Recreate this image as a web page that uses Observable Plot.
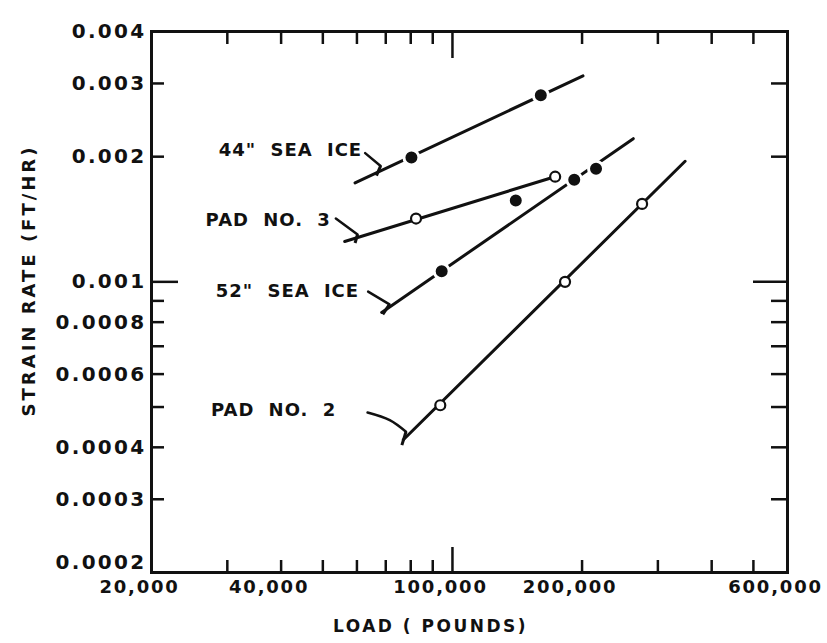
<!DOCTYPE html>
<html>
<head>
<meta charset="utf-8">
<script src="https://cdn.jsdelivr.net/npm/d3@7"></script>
<script src="https://cdn.jsdelivr.net/npm/@observablehq/plot@0.6"></script>
<style>
  html, body { margin: 0; padding: 0; background: #fff; }
  #chart svg { display: block; background: #fff; }
</style>
</head>
<body>
<div id="chart"></div>
<script>
// ---- axis ticks and labels ----
const xLabelValues = [20000, 40000, 100000, 200000, 600000];
const xLabelText = ["20,000", "40,000", "100,000", "200,000", "600,000"];
const xMinorTicks = [30000, 40000, 50000, 60000, 70000, 80000, 90000, 200000, 300000, 400000, 500000];
const xMajorTicks = [100000];

const yLabelValues = [0.0002, 0.0003, 0.0004, 0.0006, 0.0008, 0.001, 0.002, 0.003, 0.004];
const yLabelText = ["0.0002", "0.0003", "0.0004", "0.0006", "0.0008", "0.001", "0.002", "0.003", "0.004"];
const yMinorTicks = [0.0003, 0.0004, 0.0005, 0.0006, 0.0007, 0.0008, 0.0009, 0.002, 0.003];
const yMajorTicks = [0.001];

const xTitle = "LOAD ( POUNDS)";
const yTitle = "STRAIN RATE (FT/HR)";

// ---- series (load in pounds, strain rate in ft/hr) ----
const seriesNames = ["44\" SEA ICE", "PAD NO. 3", "52\" SEA ICE", "PAD NO. 2"];
const lineStartLoad = [59400, 56200, 68500, 76900];
const lineStartRate = [0.00173, 0.00125, 0.000844, 0.000417];
const lineEndLoad   = [201000, 173000, 263000, 347000];
const lineEndRate   = [0.00313, 0.00179, 0.00221, 0.00195];

const sea44Load = [80300, 160400];
const sea44Rate = [0.00199, 0.00281];
const pad3Load  = [82300, 173200];
const pad3Rate  = [0.00142, 0.00179];
const sea52Load = [94400, 140300, 191800, 215500];
const sea52Rate = [0.00106, 0.00157, 0.00176, 0.00187];
const pad2Load  = [93700, 182600, 275700];
const pad2Rate  = [0.000505, 0.00100, 0.00154];

// ---- label annotations (data coordinates) ----
const labelLoad = [61700, 52200, 60700, 53700];
const labelRate = [0.00207, 0.00141, 0.000952, 0.000492];
const leadStartLoad = [62700, 53600, 63700, 63500];
const leadStartRate = [0.00204, 0.00142, 0.000947, 0.000485];
const pad2BendLoad = 71500;
const pad2BendRate = 0.000465;
const junctionLoad = [68100, 60200, 71400, 78000];
const junctionRate = [0.00190, 0.00130, 0.000883, 0.000436];
const stemLoad = [66600, 59400, 68900, 76300];
const stemRate = [0.00180, 0.00124, 0.000835, 0.000405];

// ---- build tables ----
const toPts = (L, S) => L.map((l, i) => ({L: l, S: S[i]}));
const lines = seriesNames.flatMap((s, i) => [
  {s, L: lineStartLoad[i], S: lineStartRate[i]},
  {s, L: lineEndLoad[i], S: lineEndRate[i]}
]);
const filledPts = [...toPts(sea44Load, sea44Rate), ...toPts(sea52Load, sea52Rate)];
const openPts = [...toPts(pad3Load, pad3Rate), ...toPts(pad2Load, pad2Rate)];
const labels = seriesNames.map((s, i) => ({s, L: labelLoad[i], S: labelRate[i]}));
const leaders = seriesNames.flatMap((s, i) => [
  {s, L: leadStartLoad[i], S: leadStartRate[i]},
  ...(i === 3 ? [{s, L: pad2BendLoad, S: pad2BendRate}] : []),
  {s, L: junctionLoad[i], S: junctionRate[i]}
]);
const stems = seriesNames.map((s, i) => ({
  s, L1: junctionLoad[i], S1: junctionRate[i], L2: stemLoad[i], S2: stemRate[i]
}));
const xLabels = xLabelValues.map((v, i) => ({v, t: xLabelText[i]}));
const yLabels = yLabelValues.map((v, i) => ({v, t: yLabelText[i]}));

// ---- layout ----
const W = 827, H = 643;
const mL = 151, mR = 40, mT = 31, mB = 71;
const pW = W - mL - mR, pH = H - mT - mB;
const ink = "#111";
const font = "DejaVu Sans, Liberation Sans, sans-serif";

const chart = Plot.plot({
  width: W,
  height: H,
  marginLeft: mL,
  marginRight: mR,
  marginTop: mT,
  marginBottom: mB,
  style: {background: "#fff", color: ink, fontFamily: font},
  x: {type: "log", domain: [20000, 600000], axis: null},
  y: {type: "log", domain: [0.0002, 0.004], axis: null},
  marks: [
    // tick marks (inward)
    Plot.ruleX(xMinorTicks, {x: d => d, insetTop: pH - 12, stroke: ink, strokeWidth: 2.5}),
    Plot.ruleX(xMajorTicks, {x: d => d, insetTop: pH - 25, stroke: ink, strokeWidth: 2.5}),
    Plot.ruleX(xMinorTicks, {x: d => d, insetBottom: pH - 13, stroke: ink, strokeWidth: 2.5}),
    Plot.ruleX(xMajorTicks, {x: d => d, insetBottom: pH - 27, stroke: ink, strokeWidth: 2.5}),
    Plot.ruleY(yMinorTicks, {y: d => d, insetRight: pW - 13, stroke: ink, strokeWidth: 2.5}),
    Plot.ruleY(yMajorTicks, {y: d => d, insetRight: pW - 27, stroke: ink, strokeWidth: 2.5}),
    Plot.ruleY(yMinorTicks, {y: d => d, insetLeft: pW - 16, stroke: ink, strokeWidth: 2.5}),
    Plot.ruleY(yMajorTicks, {y: d => d, insetLeft: pW - 34, stroke: ink, strokeWidth: 2.5}),
    Plot.frame({stroke: ink, strokeWidth: 3}),

    // tick labels
    Plot.text(yLabels.slice(1), {
      y: "v", text: "t", frameAnchor: "left", textAnchor: "end", lineAnchor: "middle", dx: -5,
      fontSize: 20, fontWeight: "bold", fill: ink
    }),
    Plot.text(yLabels.slice(0, 1), {
      y: "v", text: "t", frameAnchor: "left", textAnchor: "end", lineAnchor: "middle", dx: -5, dy: -10,
      fontSize: 20, fontWeight: "bold", fill: ink
    }),
    Plot.text(xLabels, {
      x: "v", text: "t", frameAnchor: "bottom", lineAnchor: "top", dy: 8, dx: -12,
      fontSize: 18, fontWeight: "bold", fill: ink
    }),
    Plot.text([xTitle], {
      frameAnchor: "bottom", textAnchor: "middle", lineAnchor: "middle",
      dx: 430 - (mL + pW / 2), dy: 54,
      fontSize: 17, fontWeight: "bold", fill: ink
    }),
    Plot.text([yTitle], {
      frameAnchor: "left", textAnchor: "middle", lineAnchor: "middle", rotate: -90,
      dx: 29 - mL, dy: 280 - (mT + pH / 2),
      fontSize: 18, fontWeight: "bold", fill: ink
    }),

    // series lines
    Plot.line(lines, {x: "L", y: "S", z: "s", stroke: ink, strokeWidth: 3}),

    // leaders and hooks
    Plot.line(leaders, {x: "L", y: "S", z: "s", stroke: ink, strokeWidth: 2.5, curve: "catmull-rom"}),
    Plot.link(stems, {x1: "L1", y1: "S1", x2: "L2", y2: "S2", stroke: ink, strokeWidth: 3}),

    // points
    Plot.dot(filledPts, {x: "L", y: "S", r: 7.5, fill: ink, stroke: "#fff", strokeWidth: 3}),
    Plot.dot(openPts, {x: "L", y: "S", r: 5, fill: "#fff", stroke: ink, strokeWidth: 2.2}),

    // series labels
    Plot.text(labels, {
      x: "L", y: "S", text: "s", textAnchor: "end", lineAnchor: "middle", fontSize: 18, fontWeight: "bold",
      fill: ink
    })
  ]
});

// letter spacing like the original hand lettering
const spacing = new Map();
yLabelText.forEach(t => spacing.set(t, ["2.3px", "0px"]));
xLabelText.forEach(t => spacing.set(t, ["1.8px", "0px"]));
seriesNames.forEach(t => spacing.set(t, ["1px", "7px"]));
spacing.set(xTitle, ["2.5px", "0px"]);
spacing.set(yTitle, ["3px", "0px"]);
d3.select(chart).selectAll("text").each(function () {
  const s = spacing.get(this.textContent);
  if (s) {
    this.style.letterSpacing = s[0];
    this.style.wordSpacing = s[1];
  }
});

document.getElementById("chart").append(chart);
</script>
</body>
</html>
